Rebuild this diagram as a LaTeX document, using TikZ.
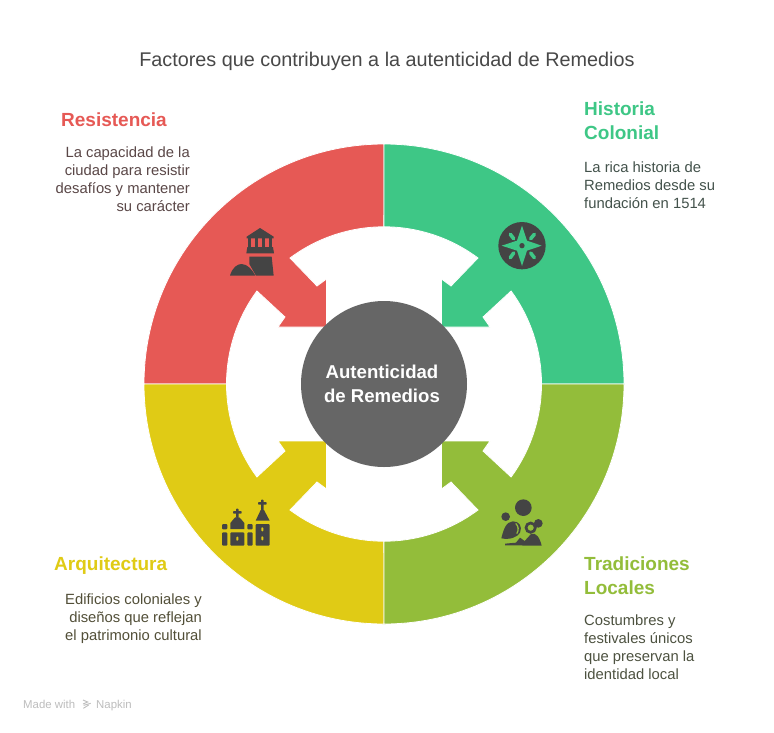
\documentclass[tikz,border=0pt]{standalone}
\usepackage{fontspec}
\setmainfont{Liberation Sans}
\definecolor{cred}{HTML}{E65955}
\definecolor{cgreen}{HTML}{3EC786}
\definecolor{clime}{HTML}{93BD3A}
\definecolor{cyellow}{HTML}{E0CB15}
\definecolor{icon}{HTML}{444444}
\definecolor{hub}{HTML}{666666}
\definecolor{txt}{HTML}{484848}
\definecolor{foot}{HTML}{BDBDBD}
\definecolor{dred}{HTML}{5A4747}
\definecolor{dgreen}{HTML}{43524B}
\definecolor{dyellow}{HTML}{524F38}
\definecolor{dlime}{HTML}{4D5240}
\tikzset{
  sector/.style={draw=white,line width=0.8pt,line join=miter},
  heading/.style={inner sep=0pt,font=\fontsize{19}{24}\selectfont\bfseries},
  desc/.style={inner sep=0pt,font=\fontsize{14.8}{18}\selectfont},
  ic/.style={fill=icon,draw=none},
  iconscope/.style={scale=1/3}
}
\newcommand{\sectorpath}{(384,144) arc[start angle=90,end angle=180,radius=240pt] -- (226.5,384)
  arc[start angle=180,end angle=143.8,radius=157.5pt] -- (285,317) -- (278,327) -- (326.5,327) -- (326.5,279) -- (317,286) -- (290,258)
  arc[start angle=126.7,end angle=90,radius=157.5pt] -- cycle}
\begin{document}
\begin{tikzpicture}[x=1pt,y=-1pt]
\useasboundingbox (0,0) rectangle (774,732);
\fill[white] (0,0) rectangle (774,732);
% sectors
\path[sector,fill=cred] \sectorpath;
\begin{scope}[xscale=-1,xshift=-768pt]
\path[sector,fill=cgreen] \sectorpath;
\end{scope}
\begin{scope}[yscale=-1,yshift=768pt]
\path[sector,fill=cyellow] \sectorpath;
\end{scope}
\begin{scope}[xscale=-1,yscale=-1,xshift=-768pt,yshift=768pt]
\path[sector,fill=clime] \sectorpath;
\end{scope}
% hub
\node[circle,fill=hub,minimum size=166pt,inner sep=0pt] (hub) at (384,384) {};
\node[inner sep=0pt,text=white,align=center,font=\fontsize{18.6}{24}\selectfont\bfseries] (hubtext) at (382,384) {Autenticidad\\de Remedios};
% title
\node[inner sep=0pt,text=txt,font=\fontsize{19.8}{22}\selectfont] (title) at (387,61.5) {Factores que contribuyen a la autenticidad de Remedios};
% headings
\node[heading,text=cred,anchor=west] (h1) at (61,120) {Resistencia};
\node[heading,text=cgreen,anchor=north west,align=left] (h2) at (584,102) {Historia\\Colonial};
\node[heading,text=cyellow,anchor=west] (h3) at (54,566) {Arquitectura};
\node[heading,text=clime,anchor=north west,align=left] (h4) at (584,557) {Tradiciones\\Locales};
% descriptions
\node[desc,text=dred,anchor=north east,align=right] (d1) at (190,147) {La capacidad de la\\ciudad para resistir\\desafíos y mantener\\su carácter};
\node[desc,text=dgreen,anchor=north west,align=left] (d2) at (584,162) {La rica historia de\\Remedios desde su\\fundación en 1514};
\node[desc,text=dyellow,anchor=north east,align=right] (d3) at (202,594) {Edificios coloniales y\\diseños que reflejan\\el patrimonio cultural};
\node[desc,text=dlime,anchor=north west,align=left] (d4) at (584,615) {Costumbres y\\festivales únicos\\que preservan la\\identidad local};
% lighthouse
\begin{scope}[shift={(200,210)},iconscope]
\fill[ic] (140,80) -- (180,54) -- (221,80) -- (221,85) -- (140,85) -- cycle;
\foreach \x in {145,166,187,207} \fill[ic] (\x,85) rectangle +(9,26);
\fill[ic] (142,111) -- (219,111) -- (222,130) -- (139,130) -- cycle;
\fill[ic] (148,140) -- (215,140) -- (221,197) -- (168,197) -- (148,162) -- cycle;
\fill[ic] (90,197) .. controls (97,172) and (112,162) .. (125,162) .. controls (142,162) and (158,180) .. (166,197) -- cycle;
\end{scope}
% compass
\begin{scope}[shift={(430,210)},iconscope]
\fill[ic] (276,107) circle[radius=71pt];
\fill[cgreen] (276,47) -- (291,92) -- (335,107) -- (291,122) -- (276,168) -- (261,122) -- (215,107) -- (261,92) -- cycle;
\fill[ic] (276,107) circle[radius=8pt];
\foreach \a/\b/\c/\d in {241/73/251/86, 313/73/302/86, 241/143/251/129, 313/143/302/129}
  \draw[cgreen,line width=3.6pt,line cap=round] (\a,\b) -- (\c,\d);
\end{scope}
% churches
\begin{scope}[shift={(200,430)},iconscope]
\fill[ic,rounded corners=1pt] (66,282) rectangle (82,298);
\fill[ic,rounded corners=1pt] (66,307) rectangle (82,347);
\fill[ic,rounded corners=1pt] (91,307) rectangle (133,347);
\fill[ic,rounded corners=1pt] (142,282) rectangle (158,298);
\fill[ic,rounded corners=1pt] (142,307) rectangle (158,347);
\fill[ic,rounded corners=1pt] (167,282) rectangle (209,347);
\fill[ic] (91,297) -- (91,279) .. controls (96,270) and (104,266) .. (106,262) -- (118,262) .. controls (120,266) and (128,270) .. (133,279) -- (133,297) -- cycle;
\fill[ic,rounded corners=0.8pt] (108,236) rectangle (116,264);
\fill[ic,rounded corners=0.8pt] (99,243) rectangle (125,251);
\fill[ic] (167,272) -- (182,240) -- (192,240) -- (209,272) -- cycle;
\fill[ic,rounded corners=0.8pt] (183,209) rectangle (191,242);
\fill[ic,rounded corners=0.8pt] (174,216) rectangle (200,224);
\fill[cyellow,rounded corners=0.8pt] (109,320) rectangle (115,332);
\fill[cyellow,rounded corners=0.8pt] (184,292) rectangle (190,304);
\fill[cyellow,rounded corners=0.8pt] (184,319) rectangle (190,331);
\end{scope}
% people
\begin{scope}[shift={(430,430)},iconscope]
\fill[ic] (280,233) circle[radius=25pt];
\fill[ic] (227,260) circle[radius=13pt];
\fill[ic] (214,325) .. controls (220,300) and (228,275) .. (248,274) .. controls (268,273) and (278,290) .. (270,308) .. controls (262,322) and (240,330) .. (214,325) -- cycle;
\draw[clime,line width=1.3pt,line cap=round] (258,281) .. controls (266,290) and (266,300) .. (261,310);
\fill[ic] (325,280) circle[radius=13pt];
\fill[ic] (225,346) -- (225,341) -- (258,338) -- (270,323) -- (284,333) -- (303,312) .. controls (318,305) and (330,325) .. (335,347) -- cycle;
\draw[icon,line width=2.7pt] (302,293) circle[radius=14pt];
\end{scope}
% footer
\node[inner sep=0pt,anchor=base west,text=foot,font=\fontsize{11.4}{12}\selectfont] (f1) at (23,708) {Made with};
\node[inner sep=0pt,anchor=base west,text=foot,font=\fontsize{11.4}{12}\selectfont] (f2) at (96,708) {Napkin};
\begin{scope}[shift={(10,690)},iconscope]
\draw[foot,line width=0.9pt] (219,30) -- (233,36) -- (219,42);
\draw[foot,line width=0.9pt] (221,46) -- (242,40);
\draw[foot,line width=0.9pt] (220,55) -- (236,45);
\end{scope}
\end{tikzpicture}
\end{document}
